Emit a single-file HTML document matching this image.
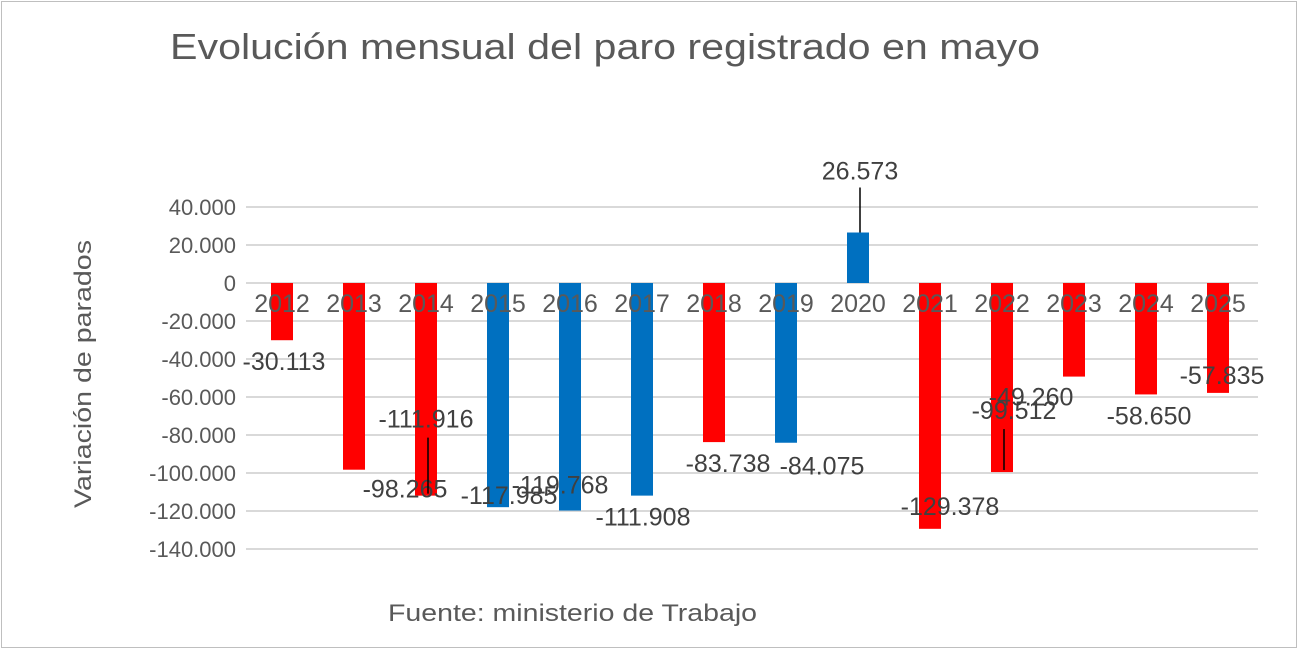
<!DOCTYPE html>
<html><head><meta charset="utf-8"><style>
body{margin:0;width:1300px;height:651px;background:#fff;overflow:hidden;font-family:"Liberation Sans",sans-serif}
.frame{position:absolute;left:1px;top:1px;width:1296px;height:647px;border:1px solid #bfbfbf;box-sizing:border-box}
</style></head><body>
<div class="frame"></div>
<svg width="1300" height="651" style="position:absolute;left:0;top:0">
<text x="170" y="59" font-size="36" fill="#595959" textLength="870" lengthAdjust="spacingAndGlyphs">Evolución mensual del paro registrado en mayo</text>
<text transform="translate(91,374) rotate(-90)" text-anchor="middle" font-size="24" fill="#595959" textLength="268" lengthAdjust="spacingAndGlyphs">Variación de parados</text>
<text x="388" y="621" font-size="24" fill="#595959" textLength="369" lengthAdjust="spacingAndGlyphs">Fuente: ministerio de Trabajo</text>
<g id="grid"></g><g id="bars"></g><g id="xlabels"></g><g id="vlabels"></g>
</svg>
<script>
const years=["2012","2013","2014","2015","2016","2017","2018","2019","2020","2021","2022","2023","2024","2025"];
const values=[-30113,-98265,-111916,-117985,-119768,-111908,-83738,-84075,26573,-129378,-99512,-49260,-58650,-57835];
const labels=["-30.113","-98.265","-111.916","-117.985","-119.768","-111.908","-83.738","-84.075","26.573","-129.378","-99.512","-49.260","-58.650","-57.835"];
const colors=["#ff0000","#ff0000","#ff0000","#0070c0","#0070c0","#0070c0","#ff0000","#0070c0","#0070c0","#ff0000","#ff0000","#ff0000","#ff0000","#ff0000"];
const ticks=[40000,20000,0,-20000,-40000,-60000,-80000,-100000,-120000,-140000];
const tickLabels=["40.000","20.000","0","-20.000","-40.000","-60.000","-80.000","-100.000","-120.000","-140.000"];
// label offsets from bar end (dx,dy) and leader flags, to mimic reference placement
const labDx=[2,51,0,11,-10,1,14,36,2,20,12,-43,3,4];
const labDy=[21,19,-77,-12,-26,21,21,23,-62,-23,-62,20,21,-18];
const leader=[0,0,1,0,0,0,0,0,1,0,1,0,0,0];
const NS="http://www.w3.org/2000/svg";
const x0=246,x1=1258,step=72,bw=22;
const y=v=>283-v*38/20000;
const xc=i=>282+i*step;
function mk(t,a,p){const e=document.createElementNS(NS,t);for(const k in a)e.setAttribute(k,a[k]);p.appendChild(e);return e;}
const g=document.getElementById('grid'),b=document.getElementById('bars'),xl=document.getElementById('xlabels'),vl=document.getElementById('vlabels');
ticks.forEach((t,i)=>{
 const l=mk('line',{x1:x0,x2:x1,y1:y(t),y2:y(t),stroke:'#d9d9d9','stroke-width':2},g);
 
 
 const tx=mk('text',{x:236,y:y(t)+8,'text-anchor':'end','font-size':22,fill:'#595959'},g);
 tx.textContent=tickLabels[i];
 
 
});
values.forEach((v,i)=>{
 const top=Math.min(y(v),y(0)),h=Math.abs(y(v)-y(0));
 const r=mk('rect',{x:xc(i)-bw/2,y:top,width:bw,height:h,fill:colors[i]},b);
 
 
 const t=mk('text',{x:xc(i),y:312,'text-anchor':'middle','font-size':25,fill:'#595959'},xl);
 t.textContent=years[i];
 
 
 const lx=xc(i)+labDx[i],ly=y(v)+labDy[i];
 if(leader[i]){
  const y1=v>0?ly+17:ly+19, y2=y(v)+(v>0?0:-2);
  const ox=i==10?10:(i==2?-2:0);
  const ln=mk('line',{x1:lx-ox,x2:lx-ox,y1:y1,y2:y2,stroke:'#000','stroke-width':1.5},vl);
  
  
 }
 const d=mk('text',{x:lx,y:ly+9,'text-anchor':'middle','font-size':25,fill:'#404040'},vl);
 d.textContent=labels[i];
 
 
});
</script>
</body></html>
